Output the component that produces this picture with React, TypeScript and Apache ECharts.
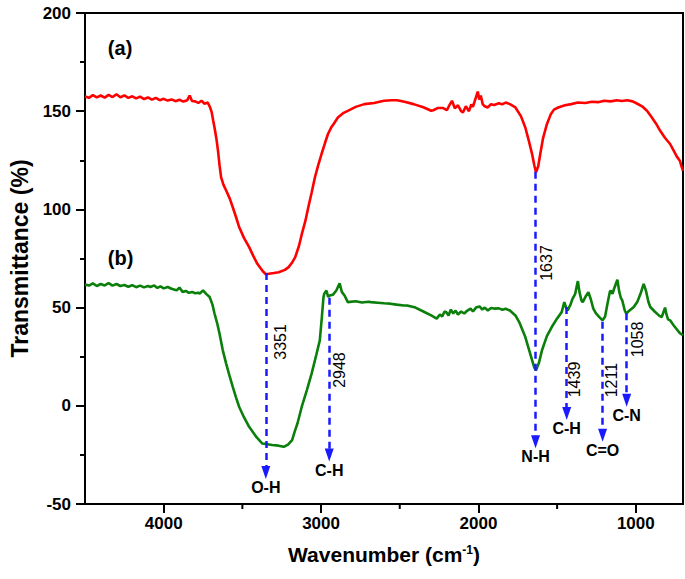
import { useEffect, useRef } from 'react';
import * as echarts from 'echarts';

const FONT = '"Liberation Sans", Arial, Helvetica, sans-serif';

// Axis ranges and ticks
const X_MIN = 700;
const X_MAX = 4500;
const Y_MIN = -50;
const Y_MAX = 200;
const xMajorTicks = [1000, 2000, 3000, 4000];
const xMinorTicks = [1500, 2500, 3500];

// Spectrum (a) – red: [wavenumber, transmittance]
const spectrumA: number[][] = [
  [4500, 157.5], [4475, 156.8], [4450, 158.2], [4425, 157.0], [4400, 158.0], [4375, 156.9], [4350, 158.3],
  [4325, 157.2], [4300, 158.6], [4275, 157.1], [4250, 158.0], [4225, 156.8], [4200, 157.6], [4175, 156.5],
  [4150, 157.4], [4125, 156.2], [4100, 157.0], [4075, 155.9], [4050, 156.8], [4025, 155.6], [4000, 156.3],
  [3975, 155.4], [3950, 156.0], [3925, 155.1], [3900, 155.8], [3875, 154.9], [3850, 155.6], [3835, 158.0],
  [3820, 155.2], [3800, 155.0], [3780, 154.2], [3760, 155.3], [3740, 153.8], [3720, 154.4], [3708, 152.5],
  [3695, 149.5], [3685, 145.0], [3677, 141.7], [3665, 136.0], [3655, 129.9], [3645, 122.5], [3635, 116.3],
  [3620, 112.5], [3603, 109.6], [3580, 105.5], [3561, 101.1], [3540, 96.0], [3520, 90.9], [3490, 85.5],
  [3457, 80.8], [3430, 76.2], [3405, 72.3], [3370, 68.5], [3351, 67.0], [3300, 67.6], [3269, 68.0],
  [3230, 69.2], [3206, 70.6], [3185, 72.8], [3164, 75.7], [3140, 81.5], [3122, 87.5], [3100, 94.0],
  [3081, 101.1], [3060, 108.5], [3039, 116.3], [3018, 122.5], [2997, 128.2], [2975, 133.8], [2956, 138.4],
  [2935, 141.8], [2920, 143.5], [2893, 146.8], [2860, 149.0], [2830, 150.2], [2780, 152.2], [2725, 153.6],
  [2663, 154.2], [2600, 155.3], [2550, 155.6], [2517, 155.6], [2470, 154.8], [2412, 153.6], [2350, 152.0],
  [2300, 150.2], [2287, 150.5], [2260, 151.6], [2224, 151.6], [2200, 150.5], [2185, 153.0], [2168, 155.3],
  [2150, 151.5], [2130, 153.0], [2110, 150.0], [2098, 149.4], [2080, 152.5], [2060, 150.0], [2045, 153.5],
  [2035, 152.2], [2020, 156.0], [2004, 160.0], [1995, 156.0], [1985, 158.0], [1973, 153.6], [1960, 152.5],
  [1942, 151.9], [1920, 153.5], [1900, 153.2], [1870, 154.0], [1850, 153.5], [1827, 154.4], [1800, 153.6],
  [1765, 151.9], [1730, 147.5], [1702, 141.7], [1680, 135.0], [1659, 128.2], [1645, 122.5], [1634, 118.9],
  [1620, 122.0], [1607, 128.2], [1590, 136.0], [1565, 143.4], [1540, 148.5], [1520, 150.8], [1493, 151.9],
  [1450, 153.0], [1410, 153.6], [1368, 154.4], [1320, 154.2], [1280, 154.8], [1240, 154.6], [1201, 155.3],
  [1160, 155.0], [1120, 155.6], [1090, 155.2], [1054, 155.6], [1020, 155.0], [990, 153.8], [960, 152.5],
  [929, 150.2], [900, 147.0], [870, 143.5], [845, 140.0], [815, 136.5], [782, 133.3], [760, 130.0],
  [740, 127.0], [720, 124.8], [710, 122.0], [700, 119.7],
];

// Spectrum (b) – green: [wavenumber, transmittance]
const spectrumB: number[][] = [
  [4500, 61.8], [4475, 61.2], [4450, 62.3], [4425, 61.0], [4400, 62.0], [4375, 61.3], [4350, 62.5],
  [4325, 61.2], [4300, 62.0], [4275, 61.0], [4250, 61.5], [4225, 60.6], [4200, 61.4], [4175, 60.4],
  [4150, 61.2], [4125, 60.3], [4100, 61.0], [4084, 60.5], [4060, 61.3], [4040, 60.0], [4020, 60.8],
  [4000, 59.8], [3975, 60.5], [3950, 59.6], [3925, 59.0], [3917, 58.8], [3900, 60.2], [3880, 58.0],
  [3860, 58.5], [3840, 57.5], [3820, 58.0], [3800, 57.3], [3780, 57.6], [3771, 57.1], [3750, 58.8],
  [3730, 57.0], [3708, 55.4], [3690, 51.5], [3677, 47.0], [3660, 42.0], [3645, 36.7], [3625, 28.5],
  [3603, 21.5], [3580, 14.8], [3561, 9.6], [3540, 4.2], [3520, -0.6], [3490, -5.8], [3457, -10.7],
  [3410, -16.0], [3373, -19.2], [3310, -20.0], [3270, -20.3], [3237, -20.9], [3210, -19.8], [3184, -17.5],
  [3165, -12.5], [3150, -9.0], [3123, -0.6], [3090, 8.0], [3060, 16.4], [3030, 26.0], [3008, 33.3],
  [2995, 45.0], [2985, 55.0], [2980, 57.0], [2966, 58.7], [2955, 55.5], [2945, 56.2], [2925, 56.5],
  [2903, 58.7], [2882, 62.4], [2868, 58.0], [2851, 56.2], [2830, 52.8], [2780, 53.2], [2740, 52.6],
  [2700, 53.0], [2683, 52.8], [2640, 52.5], [2600, 52.2], [2560, 52.0], [2520, 51.5], [2474, 51.1],
  [2453, 51.1], [2400, 50.0], [2350, 48.0], [2300, 46.0], [2265, 44.4], [2245, 46.5], [2230, 45.5],
  [2215, 48.0], [2205, 47.7], [2190, 46.0], [2175, 49.0], [2160, 47.0], [2145, 48.5], [2130, 46.5],
  [2110, 48.0], [2090, 47.0], [2070, 48.5], [2050, 49.5], [2035, 48.0], [2015, 50.0], [1993, 50.6],
  [1975, 49.0], [1960, 50.0], [1940, 48.5], [1920, 49.8], [1900, 49.5], [1870, 49.6], [1847, 48.9],
  [1827, 49.4], [1800, 48.5], [1765, 46.0], [1740, 42.5], [1702, 35.0], [1680, 29.0], [1659, 23.2],
  [1645, 19.5], [1634, 18.1], [1615, 22.0], [1596, 28.3], [1565, 35.5], [1534, 40.1], [1500, 44.5],
  [1471, 47.7], [1460, 51.0], [1454, 52.8], [1443, 50.0], [1433, 48.6], [1415, 51.5], [1402, 54.5],
  [1385, 57.0], [1375, 61.0], [1368, 63.5], [1358, 58.0], [1345, 53.5], [1337, 52.8], [1320, 55.5],
  [1301, 57.9], [1285, 54.0], [1270, 49.5], [1253, 47.0], [1230, 45.0], [1211, 43.5], [1195, 45.5],
  [1180, 52.0], [1165, 58.0], [1159, 58.7], [1148, 57.0], [1138, 59.6], [1127, 62.0], [1117, 64.2],
  [1105, 58.0], [1095, 55.0], [1086, 53.7], [1070, 48.5], [1061, 47.0], [1040, 48.5], [1013, 50.3],
  [990, 53.0], [970, 57.0], [950, 62.1], [935, 58.5], [920, 53.0], [908, 50.3], [880, 48.0],
  [850, 45.8], [835, 45.2], [825, 47.5], [814, 50.0], [805, 46.5], [795, 44.0], [782, 43.5],
  [760, 41.0], [740, 39.0], [720, 37.0], [700, 35.9],
];

// Peak annotations
const peakWavenumbers = [3351, 2948, 1637, 1439, 1211, 1058];
const peakGroups = ['O-H', 'C-H', 'N-H', 'C-H', 'C=O', 'C-N'];
const peakLineStart = [67.6, 55.0, 119.2, 50.3, 42.8, 47.1];
const peakArrowTip = [-37.3, -28.4, -21.6, -7.2, -18.3, -0.5];
const peakNumberPos = [
  [3258, 32.5], [2885, 18.2], [1565, 72.7], [1387, 13.4], [1152, 13.1], [992, 33.8],
];

// Panel labels
const panelLabels = ['(a)', '(b)'];
const panelLabelPos = [[4277, 182.4], [4274, 75.5]];

const GRID = { left: 77, top: 13, width: 606, height: 491 };
const ARROW_W = 9;
const ARROW_H = 13;
const MINOR_TICK_LEN = 5;

export default function App() {
  const ref = useRef<HTMLDivElement>(null);

  useEffect(() => {
    if (!ref.current) return;
    const chart = echarts.init(ref.current, null, { renderer: 'svg' });
    const unitsPerPx = (Y_MAX - Y_MIN) / GRID.height;

    const markData = peakWavenumbers.map((wn, i) => [
      { coord: [wn, peakLineStart[i]], symbol: 'none' },
      {
        coord: [wn, peakArrowTip[i] + (ARROW_H / 2) * unitsPerPx],
        symbol: 'triangle',
        symbolSize: [ARROW_W, ARROW_H],
        label: { formatter: peakGroups[i] },
      },
    ]);

    const tickLine = { color: '#000', width: 2 };

    chart.setOption({
      animation: false,
      backgroundColor: '#fff',
      textStyle: { fontFamily: FONT },
      grid: { ...GRID, show: true, borderColor: '#000', borderWidth: 2, backgroundColor: 'transparent' },
      xAxis: {
        type: 'value', min: X_MIN, max: X_MAX, inverse: true, position: 'bottom',
        axisLine: { show: true, onZero: false, lineStyle: tickLine },
        axisTick: { show: true, inside: false, length: 9, lineStyle: tickLine, customValues: xMajorTicks },
        axisLabel: {
          customValues: xMajorTicks, margin: 11, color: '#000', fontSize: 17, fontWeight: 'bold', fontFamily: FONT,
          formatter: (v: number) => String(v),
        },
        splitLine: { show: false },
        name: 'Wavenumber (cm{sup|-1})',
        nameLocation: 'middle',
        nameGap: 40,
        nameTextStyle: {
          color: '#000', fontSize: 21, fontWeight: 'bold', fontFamily: FONT,
          rich: { sup: { fontSize: 12, fontWeight: 'bold', fontFamily: FONT, color: '#000', verticalAlign: 'top' } },
        },
      },
      yAxis: {
        type: 'value', min: Y_MIN, max: Y_MAX, interval: 50,
        axisLine: { show: true, onZero: false, lineStyle: tickLine },
        axisTick: { show: true, inside: false, length: 9, lineStyle: tickLine },
        minorTick: { show: true, splitNumber: 2, length: 5, lineStyle: tickLine },
        axisLabel: { margin: 14, color: '#000', fontSize: 17, fontWeight: 'bold', fontFamily: FONT },
        splitLine: { show: false },
        minorSplitLine: { show: false },
        name: 'Transmittance (%)',
        nameLocation: 'middle',
        nameGap: 54,
        nameTextStyle: { color: '#000', fontSize: 23, fontWeight: 'bold', fontFamily: FONT },
      },
      series: [
        {
          name: '(a)', type: 'line', data: spectrumA,
          symbol: 'none', showSymbol: false, silent: true,
          lineStyle: { color: '#ff0000', width: 2.6 },
        },
        {
          name: '(b)', type: 'line', data: spectrumB,
          symbol: 'none', showSymbol: false, silent: true,
          lineStyle: { color: '#0a7f0a', width: 2.6 },
          markLine: {
            silent: true,
            animation: false,
            symbol: ['none', 'triangle'],
            lineStyle: { color: '#1a1aff', width: 2.5, type: [7, 5] },
            itemStyle: { color: '#1a1aff' },
            label: {
              show: true, position: 'end', distance: 7, color: '#000',
              fontSize: 16, fontWeight: 'bold', fontFamily: FONT,
            },
            emphasis: { disabled: true },
            data: markData,
          },
        },
      ],
    });

    // Annotations and minor x ticks placed through the chart's own scales
    const toPx = (p: number[]) => chart.convertToPixel({ gridIndex: 0 }, p) as number[];
    const numberTexts = peakWavenumbers.map((wn, i) => {
      const [x, y] = toPx(peakNumberPos[i]);
      return {
        type: 'text', x, y, rotation: Math.PI / 2, silent: true, z: 10,
        style: {
          text: String(wn), fill: '#000', font: `16px ${FONT}`,
          align: 'center', verticalAlign: 'middle',
        },
      };
    });
    const panelTexts = panelLabels.map((t, i) => {
      const [x, y] = toPx(panelLabelPos[i]);
      return {
        type: 'text', x, y, silent: true, z: 10,
        style: {
          text: t, fill: '#000', font: `bold 20px ${FONT}`,
          align: 'center', verticalAlign: 'middle',
        },
      };
    });
    const minorTicks = xMinorTicks.map((wn) => {
      const [x, y] = toPx([wn, Y_MIN]);
      return {
        type: 'line', silent: true, z: 10,
        shape: { x1: x, y1: y, x2: x, y2: y + MINOR_TICK_LEN },
        style: { stroke: '#000', lineWidth: 2 },
      };
    });
    chart.setOption({ graphic: [...numberTexts, ...panelTexts, ...minorTicks] });

    return () => chart.dispose();
  }, []);

  return (
    <div
      ref={ref}
      style={{ position: 'fixed', left: 0, top: 0, width: 685, height: 579, background: '#fff' }}
    />
  );
}
